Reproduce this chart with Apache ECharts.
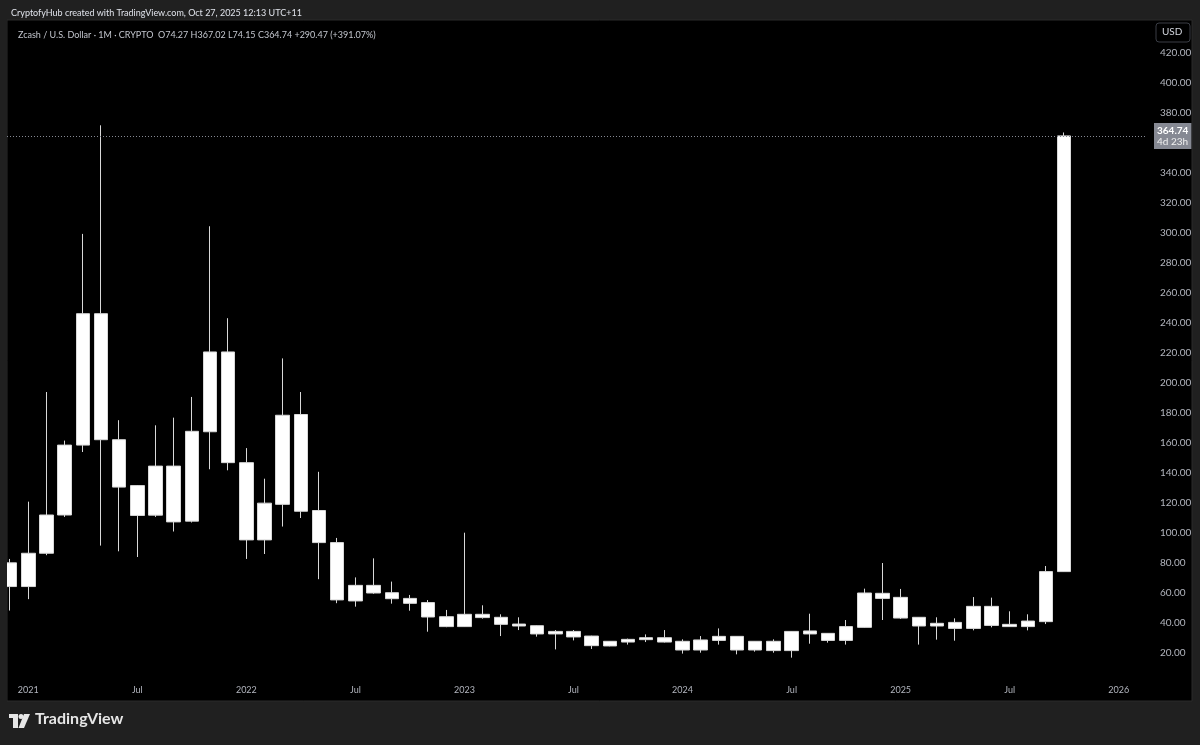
<!DOCTYPE html>
<html>
<head>
<meta charset="utf-8">
<script src="https://cdn.jsdelivr.net/npm/echarts@6/dist/echarts.min.js"></script>
<style>
html,body{margin:0;padding:0;background:#202020;}
#chart{width:1200px;height:745px;}
</style>
</head>
<body>
<div id="chart"></div>
<script>
const months = ['2020-12','2021-01','2021-02','2021-03','2021-04','2021-05','2021-06','2021-07','2021-08','2021-09','2021-10','2021-11','2021-12',
'2022-01','2022-02','2022-03','2022-04','2022-05','2022-06','2022-07','2022-08','2022-09','2022-10','2022-11','2022-12',
'2023-01','2023-02','2023-03','2023-04','2023-05','2023-06','2023-07','2023-08','2023-09','2023-10','2023-11','2023-12',
'2024-01','2024-02','2024-03','2024-04','2024-05','2024-06','2024-07','2024-08','2024-09','2024-10','2024-11','2024-12',
'2025-01','2025-02','2025-03','2025-04','2025-05','2025-06','2025-07','2025-08','2025-09','2025-10','2025-11','2025-12',
'2026-01','2026-02'];
const opens  = [80.1,64.3,86.5,112.0,158.6,246.2,162.2,131.6,111.9,144.6,107.9,167.5,220.7,
146.9,95.4,119.1,179.0,115.0,93.6,54.7,65.1,60.2,56.4,53.6,44.2,
37.6,45.8,43.8,39.3,38.2,32.7,34.4,31.3,24.7,27.3,28.9,30.2,
27.8,22.0,28.4,31.1,22.0,27.8,21.6,34.7,33.1,28.4,37.1,59.8,
57.1,43.8,38.0,40.4,36.4,51.1,37.6,37.6,40.9,74.27];
const closes = [64.3,86.5,112.0,158.6,246.2,162.2,130.6,111.7,144.6,107.4,167.8,220.7,146.9,
95.4,119.9,178.5,114.5,93.6,55.4,65.1,60.0,56.2,53.1,44.0,37.6,
45.8,43.6,39.1,38.0,32.7,34.4,30.7,24.9,27.8,29.1,30.2,27.3,
22.0,28.7,31.1,22.0,27.8,21.6,34.4,32.7,28.4,37.6,60.0,56.4,
43.3,38.0,39.8,36.4,51.1,38.4,39.1,41.3,74.27,364.74];
const lows   = [48.3,55.9,85.2,110.7,154.0,91.6,87.8,84.0,110.7,101.0,107.0,142.5,141.8,
82.7,86.0,104.3,110.0,69.2,53.2,50.9,59.5,52.9,48.2,34.2,37.2,
37.4,42.9,31.3,35.3,30.9,22.4,28.4,22.7,24.5,25.6,27.3,27.0,
19.6,20.2,25.6,19.1,20.9,20.2,16.9,26.2,26.9,25.6,36.9,42.0,
42.7,25.6,28.9,28.2,35.1,37.1,37.4,35.1,39.3,74.15];
const highs  = [82.7,120.9,194.0,161.6,299.4,371.8,175.2,132.0,171.8,176.9,190.7,304.5,243.2,
156.6,136.2,216.4,194.0,140.8,96.7,70.4,83.1,67.6,58.7,55.3,48.7,
100.2,51.8,45.8,43.8,38.4,35.3,35.3,31.5,28.0,29.6,32.4,35.3,
29.1,31.3,36.4,31.3,28.0,29.1,34.6,46.2,33.3,42.0,62.9,80.0,
62.7,44.0,43.8,43.1,57.3,56.9,47.8,45.8,78.0,367.02];
const lastPrice = 364.74;
const yTicksHidden = [0, 360, 440];

const candleData = months.map((m, i) => i < opens.length ? [opens[i], closes[i], lows[i], highs[i]] : '-');

const chart = echarts.init(document.getElementById('chart'));
const FONT = 'Lato, "Noto Sans", sans-serif';
chart.setOption({
  backgroundColor: '#202020',
  animation: false,
  textStyle: { fontFamily: FONT },
  title: [
    { text: 'CryptofyHub created with TradingView.com, Oct 27, 2025 12:13 UTC+11', left: 6, top: 4,
      textStyle: { color: '#e0e3eb', fontSize: 9, fontWeight: 'normal', fontFamily: FONT } },
    { text: 'Zcash / U.S. Dollar · 1M · CRYPTO  O74.27 H367.02 L74.15 C364.74 +290.47 (+391.07%)', left: 13, top: 26,
      textStyle: { color: '#c3c6ce', fontSize: 9, fontWeight: 'normal', fontFamily: FONT } }
  ],
  grid: { left: 1, right: 54, top: 23, bottom: 62 },
  xAxis: {
    type: 'category', data: months, boundaryGap: true,
    axisLine: { show: false }, axisTick: { show: false }, splitLine: { show: false },
    axisLabel: {
      interval: 0, margin: 3, color: '#b2b5be', fontSize: 9, fontFamily: FONT,
      formatter: v => { const [y, mo] = v.split('-'); return mo === '01' ? y : (mo === '07' ? 'Jul' : ''); }
    }
  },
  yAxis: {
    type: 'value', position: 'right', min: 0, max: 440, interval: 20,
    axisLine: { show: false }, axisTick: { show: false }, splitLine: { show: false },
    axisLabel: {
      align: 'left', margin: 14, color: '#b2b5be', fontSize: 10, fontFamily: FONT,
      formatter: v => yTicksHidden.includes(v) ? '' : v.toFixed(2)
    }
  },
  series: [{
    type: 'candlestick', data: candleData, barWidth: 14, clip: true,
    itemStyle: { color: '#ffffff', color0: '#ffffff', borderColor: '#d8d8d8', borderColor0: '#d8d8d8', borderWidth: 1 },
    markLine: {
      silent: true, symbol: 'none',
      lineStyle: { color: '#868993', type: [1, 2], width: 1 },
      label: {
        show: true, position: 'end', distance: 8,
        formatter: '{a|364.74}\n{b|4d 23h}',
        backgroundColor: '#868993', padding: [2, 3, 2, 3],
        rich: {
          a: { color: '#ffffff', fontSize: 10, fontWeight: 'bold', lineHeight: 11, fontFamily: FONT },
          b: { color: '#f0f0f0', fontSize: 10, lineHeight: 11, fontFamily: FONT }
        }
      },
      data: [{ yAxis: lastPrice }]
    }
  }],
  graphic: [
    { type: 'rect', z: -10, shape: { x: 7, y: 20, width: 1185, height: 681 }, style: { fill: '#000000', stroke: '#2b2b2b', lineWidth: 1 } },
    { type: 'rect', z: 100, shape: { x: 0, y: 20, width: 7, height: 681 }, style: { fill: '#202020' } },
    { type: 'rect', z: 100, shape: { x: 1156, y: 23, width: 34, height: 19, r: 3 }, style: { fill: '#000000', stroke: '#3a3d45', lineWidth: 1 } },
    { type: 'text', z: 101, left: 1162, top: 27, style: { text: 'USD', fill: '#d1d4dc', font: '10px ' + FONT } },
    { type: 'group', left: 9, top: 714, z: 100, children: [
      { type: 'rect', shape: { x: 0, y: 0, width: 9, height: 4 }, style: { fill: '#e6e6e6' } },
      { type: 'rect', shape: { x: 4, y: 0, width: 5, height: 14 }, style: { fill: '#e6e6e6' } },
      { type: 'circle', shape: { cx: 12, cy: 2.5, r: 2.5 }, style: { fill: '#e6e6e6' } },
      { type: 'polygon', shape: { points: [[15, 0], [21, 0], [15, 14], [9.5, 14]] }, style: { fill: '#e6e6e6' } }
    ]},
    { type: 'text', z: 100, left: 35, top: 711, style: { text: 'TradingView', fill: '#e6e6e6', font: 'bold 16px ' + FONT } }
  ]
});
</script>
</body>
</html>
